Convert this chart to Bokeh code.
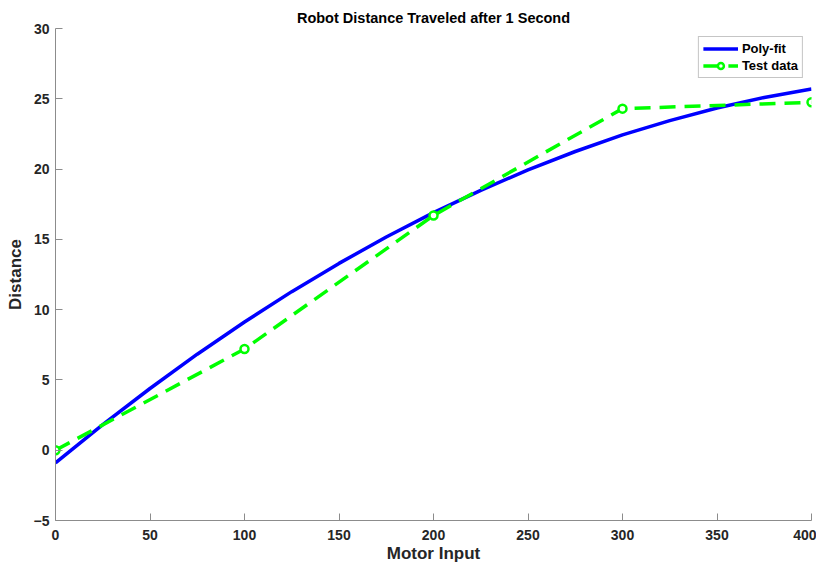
from bokeh.plotting import figure
from bokeh.models import Range1d, FixedTicker, Legend, LegendItem
from bokeh.embed import file_html
from bokeh.resources import INLINE

# Test data
test_x = [0, 100, 200, 300, 400]
test_y = [0.0, 7.2, 16.7, 24.3, 24.75]

# Poly-fit curve
fit_x = [0, 25, 50, 75, 100, 125, 150, 175, 200, 225, 250, 275, 300, 325, 350, 375, 400]
fit_y = [-0.9, 1.82, 4.39, 6.83, 9.12, 11.28, 13.29, 15.17, 16.9, 18.49, 19.94, 21.25,
         22.43, 23.45, 24.34, 25.09, 25.7]

x_ticks = [0, 50, 100, 150, 200, 250, 300, 350, 400]
y_ticks = [-5, 0, 5, 10, 15, 20, 25, 30]

FONT = "Liberation Sans"

p = figure(width=816, height=567, output_backend="svg", toolbar_location=None,
           x_range=Range1d(0, 400), y_range=Range1d(-5, 30),
           title="Robot Distance Traveled after 1 Second",
           min_border_left=55, min_border_right=5, min_border_top=28, min_border_bottom=47)

p.title.text_font = FONT
p.title.text_font_style = "bold"
p.title.text_font_size = "14.5px"
p.title.align = "center"
p.title.text_color = "#000000"
p.title.offset = 0
p.title.standoff = 5

p.outline_line_color = None
p.xgrid.visible = False
p.ygrid.visible = False
p.background_fill_color = "white"
p.border_fill_color = "white"

for ax in (p.xaxis[0], p.yaxis[0]):
    ax.axis_line_color = "#8c8c8c"
    ax.axis_line_width = 1
    ax.major_tick_line_color = "#8c8c8c"
    ax.major_tick_in = 7
    ax.major_tick_out = 0
    ax.minor_tick_line_color = None
    ax.major_label_text_font = FONT
    ax.major_label_text_font_style = "bold"
    ax.major_label_text_font_size = "14px"
    ax.major_label_text_color = "#262626"
    ax.axis_label_text_font = FONT
    ax.axis_label_text_font_style = "bold"
    ax.axis_label_text_font_size = "17px"
    ax.axis_label_text_color = "#262626"

p.xaxis.ticker = FixedTicker(ticks=x_ticks)
p.yaxis.ticker = FixedTicker(ticks=y_ticks)
p.xaxis.axis_label = "Motor Input"
p.yaxis.axis_label = "Distance"
p.xaxis.major_label_standoff = 9
p.yaxis.major_label_standoff = 6
p.xaxis.axis_label_standoff = 1
p.yaxis.axis_label_standoff = 6

fit = p.line(fit_x, fit_y, line_color="#0000ff", line_width=3.5)
tl = p.line(test_x, test_y, line_color="#00ff00", line_width=3.5, line_dash="16 9")
ts = p.scatter(test_x, test_y, marker="circle", size=8, line_color="#00ff00",
               line_width=2.5, fill_color="white")

legend = Legend(items=[LegendItem(label="Poly-fit", renderers=[fit]),
                       LegendItem(label="Test data", renderers=[tl, ts])],
                location="top_right")
legend.label_text_font = FONT
legend.label_text_font_style = "bold"
legend.label_text_font_size = "13px"
legend.label_text_color = "#000000"
legend.border_line_color = "#8c8c8c"
legend.border_line_width = 1
legend.background_fill_alpha = 1
legend.padding = 4
legend.spacing = 2
legend.margin = 8
legend.glyph_width = 35
legend.glyph_height = 15
legend.label_height = 15
legend.label_standoff = 4
p.add_layout(legend)

open("out.html", "w").write(file_html(p, INLINE))
